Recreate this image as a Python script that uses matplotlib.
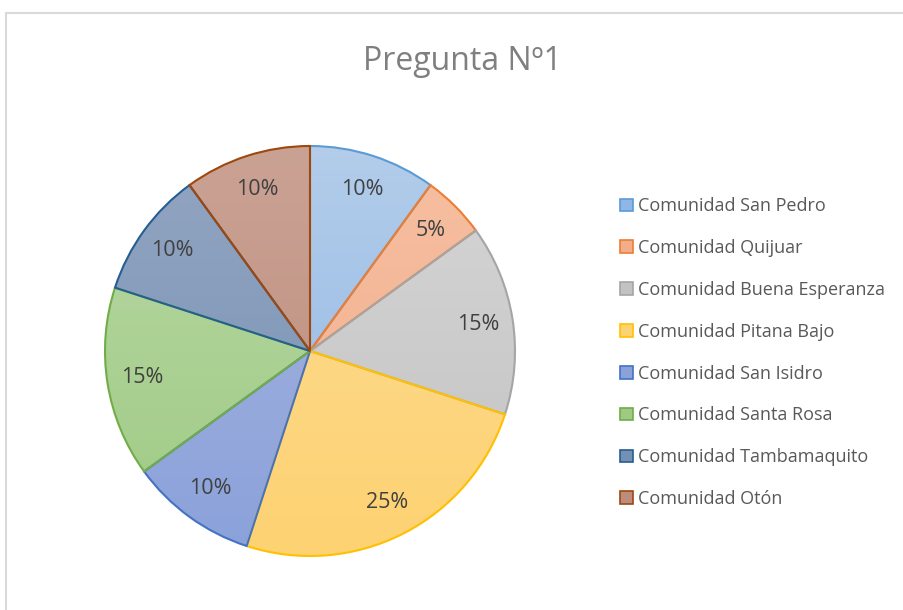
import numpy as np
import matplotlib
matplotlib.use("Agg")
import matplotlib.pyplot as plt
from matplotlib.patches import Rectangle
from matplotlib.colors import to_rgb

comunidades = ["Comunidad San Pedro", "Comunidad Quijuar", "Comunidad Buena Esperanza",
               "Comunidad Pitana Bajo", "Comunidad San Isidro", "Comunidad Santa Rosa",
               "Comunidad Tambamaquito", "Comunidad Otón"]
porcentajes = [10, 5, 15, 25, 10, 15, 10, 10]

# relleno (arriba, abajo) y borde de cada porción
relleno_top = ["#b3cdea", "#f6bfa2", "#d6d6d6", "#ffdc96", "#a9b6e0", "#b8d8a4", "#93a6c2", "#caa294"]
relleno_bot = ["#8fb6e4", "#f2ae8a", "#c2c2c2", "#fdd272", "#8aa1da", "#9fca84", "#7690b3", "#bd8c7c"]
bordes = ["#5b9bd5", "#ed7d31", "#a5a5a5", "#ffc000", "#4472c4", "#70ad47", "#255e91", "#9e480e"]

plt.rcParams['font.family'] = ['Open Sans', 'DejaVu Sans']

fig = plt.figure(figsize=(9.04, 6.10), dpi=100)
fig.patches.append(Rectangle((6 / 904, -0.1), 1.2, (610 - 13) / 610 + 0.1,
                             transform=fig.transFigure, fill=False,
                             edgecolor="#d9d9d9", linewidth=1.5))

ax = fig.add_axes([105 / 904, 1 - 556 / 610, 410 / 904, 410 / 610])
wedges, texts, autotexts = ax.pie(porcentajes, startangle=90, counterclock=False,
                                  colors=relleno_bot, autopct="%1.0f%%", pctdistance=0.83,
                                  wedgeprops=dict(linewidth=1.5),
                                  textprops=dict(color="#404040", fontsize=15.5))
ax.set_xlim(-1.0, 1.0)
ax.set_ylim(-1.0, 1.0)
ax.set_aspect("equal")

grad = np.linspace(0, 1, 256)[:, None]
for w, c1, c2, ec in zip(wedges, relleno_top, relleno_bot, bordes):
    w.set_edgecolor(ec)
    a, b = np.array(to_rgb(c1)), np.array(to_rgb(c2))
    img = a[None, None, :] * (1 - grad[:, :, None]) + b[None, None, :] * grad[:, :, None]
    im = ax.imshow(np.repeat(img, 2, axis=1), extent=(-1, 1, -1, 1), origin="upper",
                   zorder=w.get_zorder() - 0.1, aspect="auto")
    im.set_clip_path(w)
    w.set_facecolor("none")
    w.set_zorder(3)
for t in autotexts:
    t.set_zorder(5)

fig.text(462 / 904, 1 - 61 / 610, "Pregunta Nº1", ha="center", va="center",
         fontsize=23, color="#7f7f7f")

leg = fig.legend([Rectangle((0, 0), 1, 1, facecolor=f, edgecolor=e, linewidth=1.2)
                  for f, e in zip(relleno_bot, bordes)], comunidades,
                 loc="upper left", bbox_to_anchor=(604 / 904, 1 - 181 / 610),
                 frameon=False, fontsize=13, labelcolor="#595959",
                 handlelength=0.7, handleheight=0.7, handletextpad=0.3,
                 labelspacing=1.32)

fig.savefig("out.png", dpi=100)
